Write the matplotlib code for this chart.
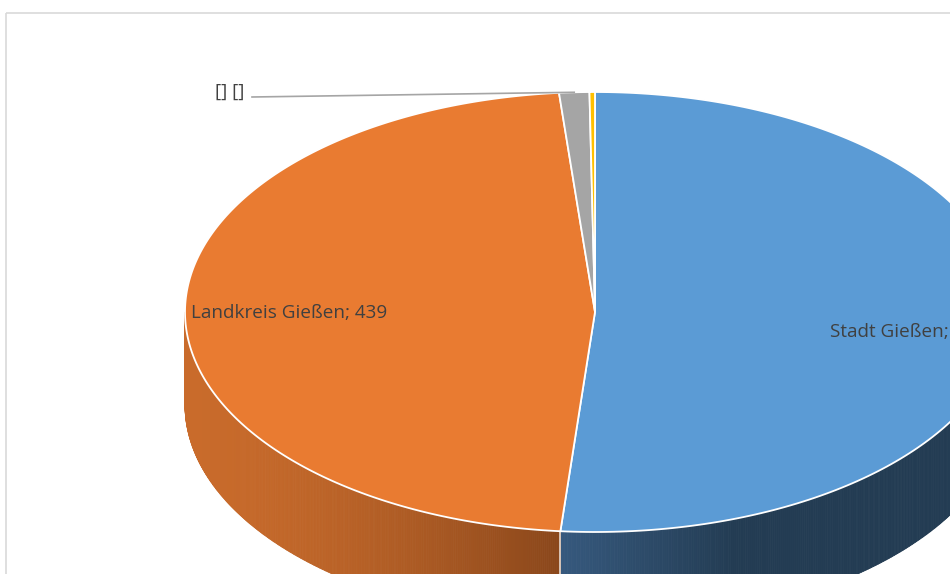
import numpy as np
import matplotlib.pyplot as plt
from matplotlib.patches import Polygon, Rectangle
from matplotlib.collections import PolyCollection
from matplotlib.colors import to_rgb

# data
labels = ["Stadt Gießen", "Landkreis Gießen", "", ""]
values = [477, 439, 11, 2]
colors = ["#5B9BD5", "#E97B31", "#A5A5A5", "#FFC000"]
side_light = ["#36597E", "#C96B2B", "#8A8A8A", "#D9A300"]
side_dark = ["#233C53", "#8A471B", "#5F5F5F", "#A07A00"]

# geometry of the tilted pie (pixel coords)
cx, cy = 595, 312
ra, rb = 410, 220
depth = 93

fig = plt.figure(figsize=(9.5, 5.74), dpi=100)
ax = fig.add_axes([0, 0, 1, 1])
ax.set_xlim(0, 950)
ax.set_ylim(574, 0)
ax.axis("off")

# chart frame
ax.add_patch(Rectangle((5.5, 12.5), 1000, 600, fill=False, ec="#D9D9D9", lw=1.2, zorder=0))

def ell(t, dy=0):
    return cx + ra*np.cos(t), cy - rb*np.sin(t) + dy

fracs = np.array(values) / np.sum(values)
ends = np.deg2rad(90 - 360*np.cumsum(fracs))
starts = np.concatenate([[np.deg2rad(90)], ends[:-1]])

# side walls (front half only: angles between -pi and 0)
for i in range(len(values)):
    lo, hi = ends[i], starts[i]
    lo2, hi2 = max(lo, -np.pi), min(hi, 0)
    lo3, hi3 = max(lo + 2*np.pi, -np.pi), min(hi + 2*np.pi, 0)
    for a0, a1 in [(lo2, hi2), (lo3, hi3)]:
        if a1 <= a0:
            continue
        ts = np.linspace(a0, a1, 300)
        polys, cols = [], []
        xs, ys = ell(ts)
        _, ysb = ell(ts, depth)
        x_min, x_max = xs.min(), xs.max()
        c1, c2 = np.array(to_rgb(side_light[i])), np.array(to_rgb(side_dark[i]))
        for k in range(len(ts) - 1):
            polys.append([(xs[k], ys[k]), (xs[k+1], ys[k+1]), (xs[k+1], ysb[k+1]), (xs[k], ysb[k])])
            xm = 0.5*(xs[k] + xs[k+1])
            if i == 0:
                f = np.clip((xm - x_min) / 175, 0, 1)
            else:
                f = np.clip((xm - x_min) / (x_max - x_min), 0, 1)**1.6
                f = 1 - f if i != 1 else f
            cols.append(c1 + (c2 - c1)*f)
        ax.add_collection(PolyCollection(polys, facecolors=cols, edgecolors=cols, linewidths=0.6, zorder=2))
    # white seam where a slice boundary faces the viewer
    if -np.pi < lo < 0:
        x0, y0 = ell(lo)
        ax.plot([x0, x0], [y0, y0 + depth], color="white", lw=1.2, alpha=0.8, zorder=3)

# top faces
for i in range(len(values)):
    ts = np.linspace(starts[i], ends[i], 200)
    xs, ys = ell(ts)
    pts = np.column_stack([np.concatenate([[cx], xs]), np.concatenate([[cy], ys])])
    ax.add_patch(Polygon(pts, closed=True, fc=colors[i], ec="white", lw=1.3, zorder=4))

# labels
txt = dict(fontsize=13.6, color="#404040", family=["Open Sans", "DejaVu Sans"], va="center", zorder=6)
ax.text(191, 313, f"{labels[1]}; {values[1]}", **txt)
ax.text(830, 332, f"{labels[0]}; {values[0]}", **txt)
ax.text(215, 92, "[] []", **txt)
gx, gy = ell(0.5*(starts[2] + ends[2]))
ax.plot([252, gx], [97, gy], color="#A5A5A5", lw=1.2, zorder=5)

fig.savefig("out.png", dpi=100)
